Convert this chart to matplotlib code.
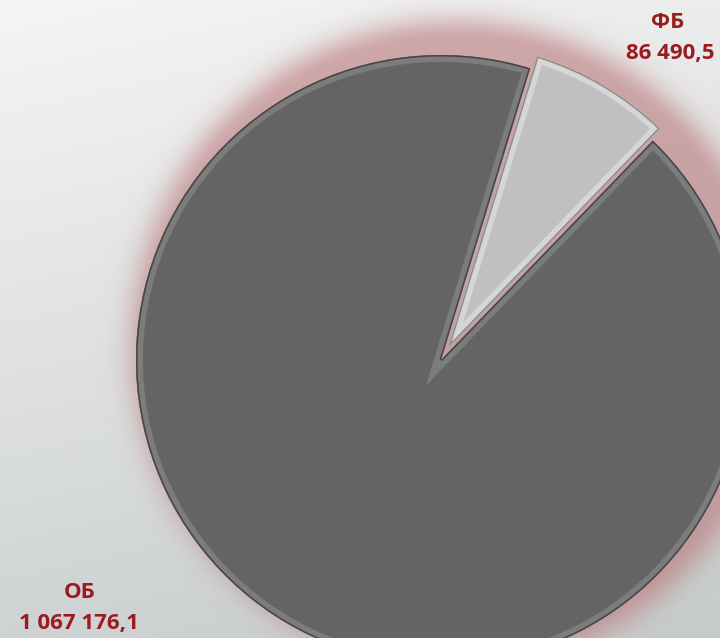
import numpy as np
import matplotlib.pyplot as plt
import matplotlib.patches as mpatches

# data
labels = ['ОБ', 'ФБ']
values = [1067176.1, 86490.5]
value_labels = ['1 067 176,1', '86 490,5']
colors = ['#646464', '#c0c0c0']
rim_colors = ['#7c7c7c', '#d6d6d6']
line_colors = ['#464646', '#8c8c8c']
explode = [0, 14]

W, H = 720, 638
CX, CY, R = 441, H - 360, 305

fig = plt.figure(figsize=(7.2, 6.38), dpi=100)
ax = fig.add_axes([0, 0, 1, 1])

# background gradient, light top-left -> grey bottom
yy, xx = np.mgrid[0:H, 0:W]
t = np.clip(0.8 * yy / H + 0.2 * xx / W, 0, 1)[..., None]
top = np.array([245, 245, 245]) / 255
bot = np.array([198, 202, 203]) / 255
bg = top * (1 - t) + bot * t
ax.imshow(bg, extent=[0, W, 0, H], origin='upper', zorder=0)

# reddish glow behind the pie, shifted up-right
d = np.hypot(xx - (CX + 14), (H - yy) - (CY + 16))
alpha = np.where(d <= R, 0.6, 0.6 * np.exp(-((d - R) / 24.0) ** 2))
glow = np.zeros((H, W, 4))
glow[..., 0] = 185 / 255
glow[..., 1] = 120 / 255
glow[..., 2] = 122 / 255
glow[..., 3] = alpha
ax.imshow(glow, extent=[0, W, 0, H], origin='upper', zorder=1)

wedges, _ = ax.pie(values, colors=colors, startangle=73, explode=explode,
                   radius=R, center=(CX, CY), wedgeprops=dict(linewidth=0))
for w in wedges:
    w.set_zorder(2)

# bevel-ish rims, clipped inside each slice
for w, rim, line in zip(wedges, rim_colors, line_colors):
    for lw, col in [(10, rim), (2.2, line)]:
        p = mpatches.Wedge(w.center, w.r, w.theta1, w.theta2,
                           facecolor='none', edgecolor=col, linewidth=lw, zorder=3)
        ax.add_patch(p)
        p.set_clip_path(w)

ax.set_xlim(0, W)
ax.set_ylim(0, H)
ax.set_aspect('auto')
ax.axis('off')

txt = dict(color='#9b1b1f', fontsize=16, fontweight='bold', family='Open Sans',
           ha='center', va='center', zorder=5)
ax.text(668, H - 22, labels[1], **txt)
ax.text(670, H - 53, value_labels[1], **txt)
ax.text(80, H - 593, labels[0], **txt)
ax.text(79, H - 624, value_labels[0], **txt)

plt.savefig('out.png', dpi=100)
